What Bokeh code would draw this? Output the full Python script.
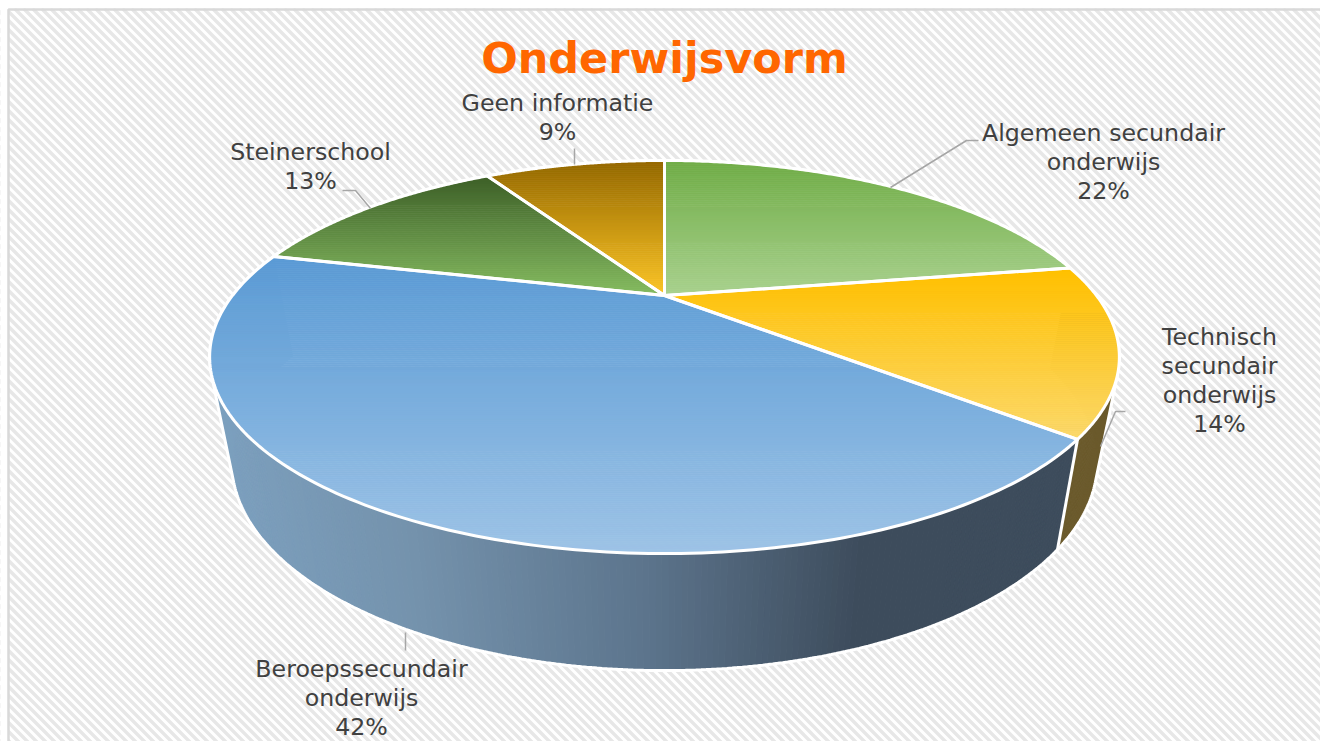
import numpy as np
from bokeh.plotting import figure
from bokeh.models import Range1d
from bokeh.core.properties import value
from bokeh.embed import file_html
from bokeh.resources import INLINE

# ---- data ----
title_text = "Onderwijsvorm"
categories = ["Algemeen secundair onderwijs", "Technisch secundair onderwijs",
              "Beroepssecundair onderwijs", "Steinerschool", "Geen informatie"]
pct_labels = ["22%", "14%", "42%", "13%", "9%"]
shares = [22.4, 13.8, 42.6, 12.5, 8.7]
label_lines = [["Algemeen secundair", "onderwijs"], ["Technisch", "secundair", "onderwijs"],
               ["Beroepssecundair", "onderwijs"], ["Steinerschool"], ["Geen informatie"]]

# ---- styling ----
top_grad = [("#70ad47", "#a9d18e"), ("#ffc000", "#fbd86a"), ("#5b9bd5", "#9dc3e6"),
            ("#3d5f28", "#85bb60"), ("#946800", "#fcc526")]
side_stops_x = [200, 420, 650, 860, 1100]
side_stops_rgb = [(125, 161, 192), (116, 146, 172), (92, 116, 140), (61, 76, 92), (61, 76, 92)]
side_brown = "#6b5a2c"
W, H = 1320, 741
CX, CY0, A, B, K = 664.0, 295.0, 432.0, 177.3, 0.313
BY0, BA, BB = 397.0, 411.0, 187.6
label_xy = [(1103, 132), (1219, 336), (361, 668), (310, 151), (557, 102)]
line_h = 29
leaders = [[(890, 187), (966, 140), (978, 140)], [(1100, 446), (1115, 411), (1125, 411)],
           [(405, 632), (405, 650)], [(370, 208), (355, 190), (342, 190)], [(574, 164), (574, 148)]]

def hex_rgb(h):
    return tuple(int(h[i:i + 2], 16) for i in (1, 3, 5))

def mix(c0, c1, f):
    return "#%02x%02x%02x" % tuple(int(round(a + (b - a) * f)) for a, b in zip(c0, c1))

def rim(theta, y0=CY0, a=A, b=B):
    u, v = np.sin(theta), -np.cos(theta)
    w = 1 - K * v
    return CX + a * u / w, y0 + b * v / w

def clip_band(pts, y0, y1):
    def clip(poly, inside, cross):
        out = []
        for i in range(len(poly)):
            p, q = poly[i - 1], poly[i]
            if inside(q):
                if not inside(p):
                    out.append(cross(p, q))
                out.append(q)
            elif inside(p):
                out.append(cross(p, q))
        return out
    def at(yy):
        return lambda p, q: (p[0] + (q[0] - p[0]) * (yy - p[1]) / (q[1] - p[1]), yy)
    poly = clip(pts, lambda p: p[1] >= y0, at(y0))
    if poly:
        poly = clip(poly, lambda p: p[1] <= y1, at(y1))
    return poly

def hull(points):
    pts = sorted(set(points))
    def half(seq):
        out = []
        for q in seq:
            while len(out) >= 2 and ((out[-1][0] - out[-2][0]) * (q[1] - out[-2][1])
                                     - (out[-1][1] - out[-2][1]) * (q[0] - out[-2][0])) <= 0:
                out.pop()
            out.append(q)
        return out
    lo, up = half(pts), half(pts[::-1])
    return lo[:-1] + up[:-1]

p = figure(width=W, height=H, x_range=Range1d(0, W), y_range=Range1d(H, 0),
           output_backend="svg", toolbar_location=None, min_border=0,
           outline_line_color=None, background_fill_color="#ffffff", border_fill_color="#ffffff")
p.axis.visible = False
p.grid.visible = False

# background hatch
period = 9
offs = np.arange(8 - H, W + period, period)
p.multi_line([[o, o + H + 10] for o in offs], [[8, H + 18] for _ in offs],
             line_color="#e7e7e7", line_width=3.4)
# frame: cover the outside, then draw the border
p.quad(left=[0, 0], right=[8, W], top=[0, 0], bottom=[H, 8], fill_color="#ffffff", line_color=None)
p.multi_line([[8, 8, 1321, 1321]], [[H + 20, 9, 9, H + 20]], line_color="#d9d9d9", line_width=2.5)

edges = np.radians(np.concatenate([[0], np.cumsum(shares)]) * 360 / np.sum(shares))

# sides
sx, sy, sc = [], [], []
for i in (1, 2):
    n = max(8, int((edges[i + 1] - edges[i]) / np.radians(0.6)))
    th = np.linspace(edges[i], edges[i + 1], n + 1)
    for t0, t1 in zip(th[:-1], th[1:]):
        x0, y0 = rim(t0)
        x1, y1 = rim(t1)
        x2, y2 = rim(t1, BY0, BA, BB)
        x3, y3 = rim(t0, BY0, BA, BB)
        sx.append([x0, x1, x2, x3])
        sy.append([y0, y1, y2, y3])
        if i == 1:
            sc.append(side_brown)
        else:
            xm = (x0 + x3) / 2
            rgb = [np.interp(xm, side_stops_x, [c[k] for c in side_stops_rgb]) for k in range(3)]
            sc.append("#%02x%02x%02x" % tuple(int(round(v)) for v in rgb))
p.patches(sx, sy, fill_color=sc, line_color=sc, line_width=1)

# white edge round the whole solid
th = np.linspace(0, 2 * np.pi, 720, endpoint=False)
tx_all, ty_all = rim(th)
bx_all, by_all = rim(th, BY0, BA, BB)
outer = hull(list(zip(tx_all, ty_all)) + list(zip(bx_all, by_all)))
outer.append(outer[0])
p.line([q[0] for q in outer], [q[1] for q in outer], line_color="#ffffff", line_width=3)
tx_e, ty_e = rim(edges[2])
ex, ey = rim(edges[2], BY0, BA, BB)
p.line([tx_e, ex], [ty_e, ey], line_color="#ffffff", line_width=3)

# top slices with vertical gradient as thin bands
fx, fy, fc = [], [], []
outlines_x, outlines_y = [], []
for i in range(len(categories)):
    th = np.linspace(edges[i], edges[i + 1], 160)
    rx, ry = rim(th)
    poly = [(CX, CY0)] + list(zip(rx, ry))
    outlines_x.append([pt[0] for pt in poly] + [CX])
    outlines_y.append([pt[1] for pt in poly] + [CY0])
    ymin, ymax = min(pt[1] for pt in poly), max(pt[1] for pt in poly)
    c0, c1 = hex_rgb(top_grad[i][0]), hex_rgb(top_grad[i][1])
    bands = np.linspace(ymin, ymax, int(ymax - ymin) // 2 + 2)
    for y0, y1 in zip(bands[:-1], bands[1:]):
        piece = clip_band(poly, y0, y1)
        if len(piece) >= 3:
            fx.append([pt[0] for pt in piece])
            fy.append([pt[1] for pt in piece])
            fc.append(mix(c0, c1, ((y0 + y1) / 2 - ymin) / (ymax - ymin)))
p.patches(fx, fy, fill_color=fc, line_color=fc, line_width=0.8)
p.multi_line(outlines_x, outlines_y, line_color="#ffffff", line_width=3, line_join="round")

# leaders
p.multi_line([[pt[0] for pt in l] for l in leaders], [[pt[1] for pt in l] for l in leaders],
             line_color="#a6a6a6", line_width=1.5)

# labels
tx, ty, tt = [], [], []
for lines, pct, (lx, ly) in zip(label_lines, pct_labels, label_xy):
    for j, s in enumerate(lines + [pct]):
        tx.append(lx)
        ty.append(ly + j * line_h)
        tt.append(s)
p.text(tx, ty, text=tt, text_font=value("DejaVu Sans"), text_font_size="23.7px",
       text_color="#404040", text_align="center", text_baseline="middle")
p.text([664], [57], text=[title_text], text_font=value("DejaVu Sans"), text_font_size="43px",
       text_font_style="bold", text_color="#ff6600", text_align="center", text_baseline="middle")

open("out.html", "w").write(file_html(p, INLINE))
